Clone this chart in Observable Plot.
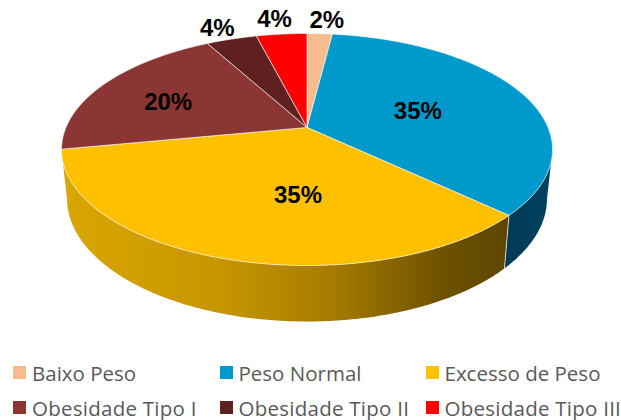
<!DOCTYPE html>
<html lang="pt">
<head>
<meta charset="utf-8">
<title>Classificação do peso</title>
<script src="https://cdn.jsdelivr.net/npm/d3@7"></script>
<script src="https://cdn.jsdelivr.net/npm/@observablehq/plot@0.6"></script>
<style>
  html, body { margin: 0; padding: 0; background: #fff; overflow: hidden; }
  #chart svg { display: block; }
  #legend {
    display: grid;
    grid-template-columns: 206.5px 206px 195px;
    grid-auto-rows: 35px;
    padding: 3px 0 0 13px;
    font: 20.5px "Open Sans", sans-serif;
    line-height: 28px;
    color: #595959;
  }
  #legend div { display: flex; align-items: center; white-space: nowrap; }
  #legend div:nth-child(n+4) span { letter-spacing: 0.25px; }
  #legend i { width: 13px; height: 13px; margin-right: 6px; flex: none; }
</style>
</head>
<body>
<div id="chart"></div>
<div id="legend"></div>
<script>
// Pie values, clockwise from twelve o'clock
const categories = ["Baixo Peso", "Peso Normal", "Excesso de Peso", "Obesidade Tipo I", "Obesidade Tipo II", "Obesidade Tipo III"];
const percents = [2, 35, 35, 20, 4, 4];
const colors = ["#F6BC8E", "#0099CC", "#FFC000", "#8B3535", "#5E2120", "#FF0000"];
const wallFills = [null, "url(#wall-blue)", "url(#wall-gold)", null, null, null];

// Label placement: radius on the disc and a pixel nudge from the slice's mid-angle
const labelRadius = [1.1, 0.5, 0.5, 0.5, 1.1, 1.1];
const labelNudge = [[6, -6], [1, 2.5], [28, 9], [-34, -2], [-8, -3], [-5, -7]];

// Tilted disc on screen, in pixels
const W = 621, H = 352;
const cx = 306.5, cy = 149, rx = 245.5, ry = 116;
const bottom = {rx: 240, ry: 123, cy: 198};
const tilt = -0.19; // how far the disc's hub sits above the ellipse centre

// Perspective map of a point on the unit disc, keeping the disc's outline elliptical
function project(turn, r = 1) {
  const t = turn * 2 * Math.PI;
  const u = r * Math.sin(t), v = -r * Math.cos(t);
  const d = 1 + tilt * v;
  return {x: u * Math.sqrt(1 - tilt * tilt) / d, y: (v + tilt) / d};
}

const total = d3.sum(percents);
const ends = d3.cumsum(percents).map((c) => c / total);
const starts = ends.map((e, i) => (i ? ends[i - 1] : 0));

function arc(a, b) {
  const n = Math.max(2, Math.ceil((b - a) * 1000));
  return d3.range(n + 1).map((i) => project(a + (b - a) * i / n));
}

// Top face of each slice: hub, rim, hub
const faces = categories.flatMap((category, i) => {
  const hub = project(0, 0);
  return [hub, ...arc(starts[i], ends[i]), hub].map((p) => ({...p, category}));
});

// Side wall of a slice: the part of its rim on the front half of the disc
function wall(i) {
  const rim = arc(starts[i], ends[i]).filter((p) => p.y >= 0);
  const low = rim.map((p) => ({
    x: p.x * bottom.rx / rx,
    y: (bottom.cy - cy + bottom.ry * p.y) / ry
  }));
  return [...rim, ...low.reverse()];
}

const labels = categories.map((category, i) => {
  const p = project((starts[i] + ends[i]) / 2, labelRadius[i]);
  return {
    x: p.x + labelNudge[i][0] / rx,
    y: p.y + labelNudge[i][1] / ry,
    text: `${percents[i]}%`
  };
});

const gradient = (id, stops) => () => {
  const g = d3.create("svg:linearGradient").attr("id", id);
  stops.forEach(([offset, color]) => g.append("stop").attr("offset", offset).attr("stop-color", color));
  return g.node();
};

const plot = Plot.plot({
  width: W,
  height: H,
  margin: 0,
  style: {background: "transparent"},
  x: {domain: [-cx / rx, (W - cx) / rx], range: [0, W], axis: null},
  y: {domain: [-cy / ry, (H - cy) / ry], range: [0, H], axis: null},
  color: {domain: categories, range: colors},
  marks: [
    gradient("wall-gold", [[0, "#DAA600"], [0.35, "#C79600"], [0.6, "#A67C00"], [0.85, "#6E5200"], [1, "#5E4500"]]),
    gradient("wall-blue", [[0, "#003A55"], [1, "#00415F"]]),
    ...wallFills.flatMap((fill, i) => fill ? [
      Plot.line(wall(i), {x: "x", y: "y", fill, stroke: "none"}),
      // light seam where a wall begins
      Plot.line([wall(i)[0], wall(i)[wall(i).length - 1]], {x: "x", y: "y", stroke: "#fff", strokeOpacity: i === 2 ? 0.7 : 0, strokeWidth: 1})
    ] : []),
    Plot.line(faces, {x: "x", y: "y", z: "category", fill: "category", stroke: "#fff", strokeOpacity: 0.6, strokeWidth: 1}),
    Plot.text(labels, {
      x: "x", y: "y", text: "text",
      fontFamily: "Liberation Sans", fontWeight: "bold", fontSize: 24, fill: "#000"
    })
  ]
});
document.getElementById("chart").append(plot);

// Legend under the pie, three columns in slice order
const legend = d3.select("#legend").selectAll("div").data(categories).join("div");
legend.append("i").style("background", (d, i) => colors[i]);
legend.append("span").text((d) => d);
</script>
</body>
</html>
